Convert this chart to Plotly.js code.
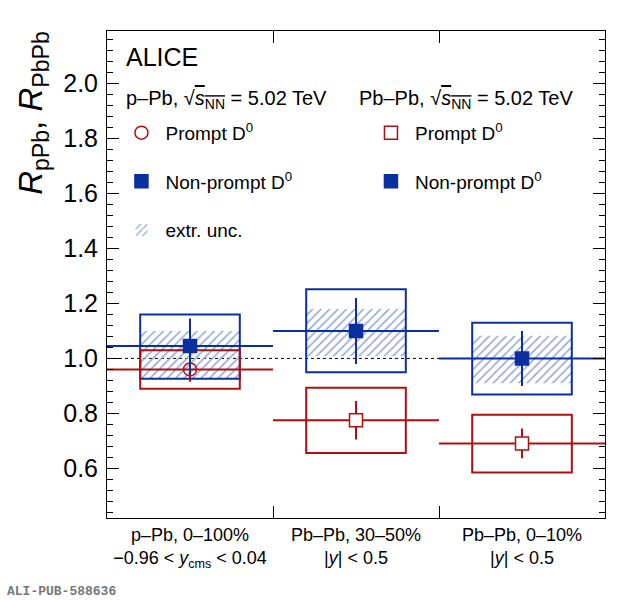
<!DOCTYPE html>
<html>
<head>
<meta charset="utf-8">
<script src="https://cdn.plot.ly/plotly-3.0.1.min.js"></script>
<style>
  html, body { margin: 0; padding: 0; background: #fff; }
  #myDiv { width: 620px; height: 600px; }
</style>
</head>
<body>
<div id="myDiv"></div>
<script>
// categorias (bins del eje x)
const categories = [
  'p–Pb, 0–100%<br>−0.96 &lt; <i>y</i><sub>cms</sub> &lt; 0.04',
  'Pb–Pb, 30–50%<br>|<i>y</i>| &lt; 0.5',
  'Pb–Pb, 0–10%<br>|<i>y</i>| &lt; 0.5'
];
const binCenters = [0.5, 1.5, 2.5];

// p-Pb (bin 0)
const pPbPrompt = [0.96];
const pPbPromptStat = [0.045];
const pPbNonPrompt = [1.045];
const pPbNonPromptStat = [0.10];

// Pb-Pb (bins 1, 2)
const PbPbPrompt = [0.775, 0.691];
const PbPbPromptStat = [0.07, 0.054];
const PbPbNonPrompt = [1.10, 1.00];
const PbPbNonPromptStat = [0.12, 0.10];

// sistematicas (cajas), los tres bins
const promptSystLow = [0.89, 0.656, 0.585];
const promptSystHigh = [1.03, 0.893, 0.795];
const nonPromptSystLow = [0.926, 0.95, 0.869];
const nonPromptSystHigh = [1.16, 1.251, 1.13];

// incertidumbre de extrapolacion (rayado)
const extrLow = [0.926, 1.008, 0.91];
const extrHigh = [1.10, 1.18, 1.082];

const blue = '#0b2f9f';
const red = '#ad1010';
const boxWidth = 0.6;

const heights = (lo, hi) => hi.map((h, i) => h - lo[i]);

const extrTrace = {
  type: 'bar', x: binCenters, base: extrLow, y: heights(extrLow, extrHigh),
  width: boxWidth, name: 'extr. unc.', legend: 'legend', legendgroup: 'c', legendrank: 3,
  marker: {
    color: 'rgba(0,0,0,0)', line: { width: 0 },
    pattern: { shape: '/', fgcolor: '#8ea2dc', bgcolor: 'rgba(0,0,0,0)', size: 6, solidity: 0.25, fillmode: 'replace' }
  },
  hoverinfo: 'skip'
};
const nonPromptBox = {
  type: 'bar', x: binCenters, base: nonPromptSystLow, y: heights(nonPromptSystLow, nonPromptSystHigh),
  width: boxWidth, showlegend: false,
  marker: { color: 'rgba(0,0,0,0)', line: { color: blue, width: 2 } },
  hoverinfo: 'skip'
};
const promptBox = {
  type: 'bar', x: binCenters, base: promptSystLow, y: heights(promptSystLow, promptSystHigh),
  width: boxWidth, showlegend: false,
  marker: { color: 'rgba(0,0,0,0)', line: { color: red, width: 2 } },
  hoverinfo: 'skip'
};

const pointTrace = (xs, ys, errs, color, symbol, fill, size, name, legend, group, rank) => ({
  type: 'scatter', mode: 'markers', x: xs, y: ys, name: name,
  legend: legend, legendgroup: group, legendrank: rank,
  error_y: { type: 'data', array: errs, visible: true, color: color, thickness: 2, width: 0 },
  error_x: { type: 'data', array: xs.map(() => 0.5), visible: true, color: color, thickness: 2, width: 0 },
  marker: { symbol: symbol, size: size, color: fill, line: { color: color, width: 1.5 } }
});

const data = [
  extrTrace, nonPromptBox, promptBox,
  pointTrace(binCenters.slice(0, 1), pPbPrompt, pPbPromptStat, red, 'circle-open', red, 13,
             'Prompt D<sup>0</sup>', 'legend', 'a', 1),
  pointTrace(binCenters.slice(0, 1), pPbNonPrompt, pPbNonPromptStat, blue, 'square', blue, 13,
             'Non-prompt D<sup>0</sup>', 'legend', 'b', 2),
  pointTrace(binCenters.slice(1), PbPbPrompt, PbPbPromptStat, red, 'square', '#ffffff', 13,
             'Prompt D<sup>0</sup>', 'legend2', 'd', 1),
  pointTrace(binCenters.slice(1), PbPbNonPrompt, PbPbNonPromptStat, blue, 'square', blue, 13,
             'Non-prompt D<sup>0</sup>', 'legend2', 'e', 2)
];

const legendBase = {
  xanchor: 'left', yanchor: 'top', y: 0.83,
  bgcolor: 'rgba(0,0,0,0)', borderwidth: 0,
  font: { family: 'Liberation Sans', size: 19, color: '#000' },
  itemwidth: 38, traceorder: 'grouped', tracegroupgap: 21, itemclick: false
};

const sqrtS = '√<span style="text-decoration:overline"><i>s</i><sub>NN</sub></span>';

const layout = {
  width: 620, height: 600,
  margin: { l: 107, r: 15, t: 31, b: 82 },
  paper_bgcolor: '#fff', plot_bgcolor: '#fff',
  font: { family: 'Liberation Sans', color: '#000' },
  barmode: 'overlay',
  showlegend: true,
  legend: Object.assign({}, legendBase, { x: 0.021 }),
  legend2: Object.assign({}, legendBase, { x: 0.522 }),
  xaxis: {
    range: [0, 3], showgrid: false, zeroline: false,
    showline: true, linecolor: '#000', linewidth: 1, mirror: 'ticks',
    tickmode: 'array', tickvals: binCenters, ticktext: categories, ticks: '',
    tickfont: { size: 18 },
    minor: { tickmode: 'array', tickvals: [1, 2], ticks: 'inside', ticklen: 12, tickcolor: '#000', showgrid: false }
  },
  yaxis: {
    range: [0.42, 2.19], showgrid: false, zeroline: false,
    showline: true, linecolor: '#000', linewidth: 1, mirror: 'ticks',
    tick0: 0, dtick: 0.2, tickformat: '.1f', ticks: 'inside', ticklen: 12, tickcolor: '#000',
    tickfont: { size: 25 }, ticklabelstandoff: 3,
    minor: { dtick: 0.04, ticks: 'inside', ticklen: 6, tickcolor: '#000', showgrid: false }
  },
  shapes: [
    { type: 'line', xref: 'paper', x0: 0, x1: 1, yref: 'y', y0: 1, y1: 1,
      line: { color: '#000', width: 1, dash: 'dot' }, layer: 'below' }
  ],
  annotations: [
    { text: '<i>R</i><sub>pPb</sub>, <i>R</i><sub>PbPb</sub>', textangle: -90,
      xref: 'paper', yref: 'paper', x: -0.149, y: 1.004, xanchor: 'center', yanchor: 'top',
      showarrow: false, font: { size: 33 } },
    { text: 'ALICE', xref: 'paper', yref: 'paper', x: 0.034, y: 0.947, xanchor: 'left', yanchor: 'middle',
      showarrow: false, font: { size: 25 } },
    { text: 'p–Pb, ' + sqrtS + ' = 5.02 TeV', xref: 'paper', yref: 'paper',
      x: 0.034, y: 0.86, xanchor: 'left', yanchor: 'middle', showarrow: false, font: { size: 20 } },
    { text: 'Pb–Pb, ' + sqrtS + ' = 5.02 TeV', xref: 'paper', yref: 'paper',
      x: 0.502, y: 0.86, xanchor: 'left', yanchor: 'middle', showarrow: false, font: { size: 20 } },
    { text: 'ALI-PUB-588636', xref: 'paper', yref: 'paper', x: -0.205, y: -0.15,
      xanchor: 'left', yanchor: 'middle', showarrow: false,
      font: { family: 'Liberation Mono', size: 13, color: '#777', weight: 'bold' } }
  ]
};

Plotly.newPlot('myDiv', data, layout, { staticPlot: true, displayModeBar: false });
</script>
</body>
</html>
